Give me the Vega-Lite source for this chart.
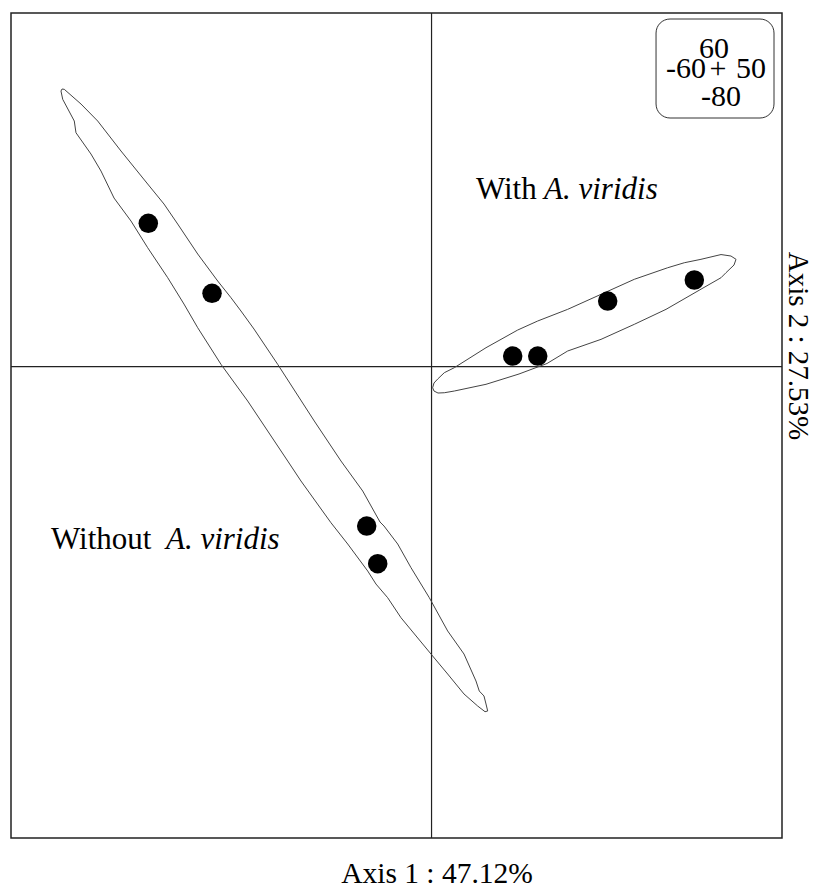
{
  "$schema": "https://vega.github.io/schema/vega-lite/v6.json",
  "width": 771,
  "height": 825,
  "padding": {"left": 10, "top": 12, "right": 0, "bottom": 0},
  "background": "white",
  "config": {"view": {"stroke": "#222", "strokeWidth": 1.5}},
  "datasets": {
    "points": [
      {"g": "without", "x": -40.41, "y": 24.31},
      {"g": "without", "x": -31.32, "y": 12.43},
      {"g": "without", "x": -9.25, "y": -27.06},
      {"g": "without", "x": -7.68, "y": -33.45},
      {"g": "with", "x": 11.58, "y": 1.79},
      {"g": "with", "x": 15.15, "y": 1.79},
      {"g": "with", "x": 25.13, "y": 11.12},
      {"g": "with", "x": 37.49, "y": 14.69}
    ],
    "hulls": [
      {"g": "without", "i": 1, "x": -52.72, "y": 47.10},
      {"g": "without", "i": 2, "x": -52.40, "y": 47.05},
      {"g": "without", "i": 3, "x": -50.01, "y": 44.55},
      {"g": "without", "i": 4, "x": -47.63, "y": 41.67},
      {"g": "without", "i": 5, "x": -44.31, "y": 36.58},
      {"g": "without", "i": 6, "x": -40.50, "y": 30.98},
      {"g": "without", "i": 7, "x": -38.17, "y": 27.58},
      {"g": "without", "i": 8, "x": -36.22, "y": 24.19},
      {"g": "without", "i": 9, "x": -33.36, "y": 19.10},
      {"g": "without", "i": 10, "x": -30.51, "y": 14.52},
      {"g": "without", "i": 11, "x": -28.61, "y": 11.68},
      {"g": "without", "i": 12, "x": -27.19, "y": 9.43},
      {"g": "without", "i": 13, "x": -25.33, "y": 6.37},
      {"g": "without", "i": 14, "x": -21.95, "y": 0.38},
      {"g": "without", "i": 15, "x": -16.73, "y": -9.24},
      {"g": "without", "i": 16, "x": -12.92, "y": -16.03},
      {"g": "without", "i": 17, "x": -9.82, "y": -21.12},
      {"g": "without", "i": 18, "x": -7.35, "y": -26.38},
      {"g": "without", "i": 19, "x": -6.78, "y": -27.06},
      {"g": "without", "i": 20, "x": -4.83, "y": -30.11},
      {"g": "without", "i": 21, "x": -2.93, "y": -34.13},
      {"g": "without", "i": 22, "x": -0.32, "y": -39.22},
      {"g": "without", "i": 23, "x": 2.30, "y": -44.87},
      {"g": "without", "i": 24, "x": 4.63, "y": -48.78},
      {"g": "without", "i": 25, "x": 6.34, "y": -53.36},
      {"g": "without", "i": 26, "x": 6.81, "y": -55.06},
      {"g": "without", "i": 27, "x": 7.48, "y": -55.90},
      {"g": "without", "i": 28, "x": 7.77, "y": -57.26},
      {"g": "without", "i": 29, "x": 8.01, "y": -58.45},
      {"g": "without", "i": 30, "x": 7.63, "y": -58.57},
      {"g": "without", "i": 31, "x": 6.58, "y": -57.60},
      {"g": "without", "i": 32, "x": 4.63, "y": -55.56},
      {"g": "without", "i": 33, "x": 2.30, "y": -52.17},
      {"g": "without", "i": 34, "x": -0.08, "y": -48.78},
      {"g": "without", "i": 35, "x": -4.36, "y": -42.62},
      {"g": "without", "i": 36, "x": -6.26, "y": -39.22},
      {"g": "without", "i": 37, "x": -7.93, "y": -36.90},
      {"g": "without", "i": 38, "x": -9.11, "y": -34.69},
      {"g": "without", "i": 39, "x": -11.96, "y": -30.11},
      {"g": "without", "i": 40, "x": -14.35, "y": -26.50},
      {"g": "without", "i": 41, "x": -18.63, "y": -19.42},
      {"g": "without", "i": 42, "x": -20.52, "y": -16.03},
      {"g": "without", "i": 43, "x": -26.23, "y": -5.85},
      {"g": "without", "i": 44, "x": -30.04, "y": 0.38},
      {"g": "without", "i": 45, "x": -33.36, "y": 6.59},
      {"g": "without", "i": 46, "x": -35.32, "y": 10.61},
      {"g": "without", "i": 47, "x": -37.64, "y": 15.08},
      {"g": "without", "i": 48, "x": -40.50, "y": 20.17},
      {"g": "without", "i": 49, "x": -42.88, "y": 24.70},
      {"g": "without", "i": 50, "x": -45.30, "y": 28.60},
      {"g": "without", "i": 51, "x": -47.16, "y": 33.18},
      {"g": "without", "i": 52, "x": -48.59, "y": 36.07},
      {"g": "without", "i": 53, "x": -50.73, "y": 39.68},
      {"g": "without", "i": 54, "x": -50.97, "y": 41.67},
      {"g": "without", "i": 55, "x": -52.62, "y": 45.35},
      {"g": "without", "i": 56, "x": -52.87, "y": 46.76},
      {"g": "without", "i": 57, "x": -52.72, "y": 47.10},
      {"g": "with", "i": 1, "x": 0.16, "y": -3.59},
      {"g": "with", "i": 2, "x": 0.35, "y": -2.79},
      {"g": "with", "i": 3, "x": 0.88, "y": -2.11},
      {"g": "with", "i": 4, "x": 1.82, "y": -1.04},
      {"g": "with", "i": 5, "x": 3.25, "y": -0.19},
      {"g": "with", "i": 6, "x": 7.77, "y": 3.20},
      {"g": "with", "i": 7, "x": 12.29, "y": 6.20},
      {"g": "with", "i": 8, "x": 15.14, "y": 7.73},
      {"g": "with", "i": 9, "x": 19.42, "y": 9.71},
      {"g": "with", "i": 10, "x": 24.18, "y": 12.26},
      {"g": "with", "i": 11, "x": 28.93, "y": 14.81},
      {"g": "with", "i": 12, "x": 33.69, "y": 16.77},
      {"g": "with", "i": 13, "x": 36.06, "y": 17.62},
      {"g": "with", "i": 14, "x": 38.44, "y": 18.20},
      {"g": "with", "i": 15, "x": 41.30, "y": 19.01},
      {"g": "with", "i": 16, "x": 42.72, "y": 18.76},
      {"g": "with", "i": 17, "x": 43.44, "y": 18.20},
      {"g": "with", "i": 18, "x": 43.15, "y": 17.23},
      {"g": "with", "i": 19, "x": 42.01, "y": 15.93},
      {"g": "with", "i": 20, "x": 41.30, "y": 15.08},
      {"g": "with", "i": 21, "x": 38.73, "y": 13.33},
      {"g": "with", "i": 22, "x": 33.45, "y": 9.71},
      {"g": "with", "i": 23, "x": 28.93, "y": 7.17},
      {"g": "with", "i": 24, "x": 24.18, "y": 4.62},
      {"g": "with", "i": 25, "x": 19.42, "y": 2.64},
      {"g": "with", "i": 26, "x": 16.47, "y": 0.52},
      {"g": "with", "i": 27, "x": 12.48, "y": -1.26},
      {"g": "with", "i": 28, "x": 7.77, "y": -3.01},
      {"g": "with", "i": 29, "x": 3.25, "y": -4.15},
      {"g": "with", "i": 30, "x": 1.82, "y": -4.44},
      {"g": "with", "i": 31, "x": 0.92, "y": -4.49},
      {"g": "with", "i": 32, "x": 0.35, "y": -4.15},
      {"g": "with", "i": 33, "x": 0.16, "y": -3.59}
    ],
    "cross": [{"x": 0, "y": 0}],
    "legendbox": [{"x1": 32.03, "x2": 48.86, "y1": 42.18, "y2": 58.98}],
    "legendcenter": [
      {"t": "60", "x": 40.3, "y": 52.36},
      {"t": "+", "x": 40.87, "y": 48.97},
      {"t": "-80", "x": 41.3, "y": 44.2}
    ],
    "legendright": [{"t": "-60", "x": 39.16, "y": 48.97}],
    "legendleft": [{"t": "50", "x": 43.44, "y": 48.97}],
    "labelsplain": [
      {"t": "With", "x": 6.34, "y": 28.43},
      {"t": "Without", "x": -54.29, "y": -30.96}
    ],
    "labelsitalic": [
      {"t": "A. viridis", "x": 16.05, "y": 28.43},
      {"t": "A. viridis", "x": -37.89, "y": -30.96}
    ],
    "titlex": [{"t": "Axis 1 : 47.12%", "x": 0.78, "y": -87.64}],
    "titley": [{"t": "Axis 2 : 27.53%", "x": 52.29, "y": 3.49}]
  },
  "layer": [
    {
      "data": {"name": "cross"},
      "mark": {"type": "rule", "color": "#222", "strokeWidth": 1.2},
      "encoding": {
        "x": {"field": "x", "type": "quantitative", "scale": {"domain": [-60, 50], "nice": false, "zero": false}, "axis": null}
      }
    },
    {
      "data": {"name": "cross"},
      "mark": {"type": "rule", "color": "#222", "strokeWidth": 1.2},
      "encoding": {
        "y": {"field": "y", "type": "quantitative", "scale": {"domain": [-80, 60], "nice": false, "zero": false}, "axis": null}
      }
    },
    {
      "data": {"name": "hulls"},
      "mark": {"type": "line", "color": "#444", "strokeWidth": 1, "interpolate": "linear"},
      "encoding": {
        "x": {"field": "x", "type": "quantitative"},
        "y": {"field": "y", "type": "quantitative"},
        "detail": {"field": "g"},
        "order": {"field": "i", "type": "quantitative"}
      }
    },
    {
      "data": {"name": "points"},
      "mark": {"type": "circle", "size": 380, "color": "black", "opacity": 1},
      "encoding": {
        "x": {"field": "x", "type": "quantitative"},
        "y": {"field": "y", "type": "quantitative"}
      }
    },
    {
      "data": {"name": "legendbox"},
      "mark": {"type": "rect", "fill": "white", "stroke": "#333", "strokeWidth": 1, "cornerRadius": 14},
      "encoding": {
        "x": {"field": "x1", "type": "quantitative"},
        "x2": {"field": "x2"},
        "y": {"field": "y1", "type": "quantitative"},
        "y2": {"field": "y2"}
      }
    },
    {
      "data": {"name": "legendcenter"},
      "mark": {"type": "text", "font": "Liberation Serif, Times New Roman, serif", "fontSize": 30, "align": "center", "baseline": "alphabetic", "color": "black"},
      "encoding": {
        "x": {"field": "x", "type": "quantitative"},
        "y": {"field": "y", "type": "quantitative"},
        "text": {"field": "t"}
      }
    },
    {
      "data": {"name": "legendright"},
      "mark": {"type": "text", "font": "Liberation Serif, Times New Roman, serif", "fontSize": 30, "align": "right", "baseline": "alphabetic", "color": "black"},
      "encoding": {
        "x": {"field": "x", "type": "quantitative"},
        "y": {"field": "y", "type": "quantitative"},
        "text": {"field": "t"}
      }
    },
    {
      "data": {"name": "legendleft"},
      "mark": {"type": "text", "font": "Liberation Serif, Times New Roman, serif", "fontSize": 30, "align": "left", "baseline": "alphabetic", "color": "black"},
      "encoding": {
        "x": {"field": "x", "type": "quantitative"},
        "y": {"field": "y", "type": "quantitative"},
        "text": {"field": "t"}
      }
    },
    {
      "data": {"name": "labelsplain"},
      "mark": {"type": "text", "font": "Liberation Serif, Times New Roman, serif", "fontSize": 31, "align": "left", "baseline": "alphabetic", "color": "black"},
      "encoding": {
        "x": {"field": "x", "type": "quantitative"},
        "y": {"field": "y", "type": "quantitative"},
        "text": {"field": "t"}
      }
    },
    {
      "data": {"name": "labelsitalic"},
      "mark": {"type": "text", "font": "Liberation Serif, Times New Roman, serif", "fontSize": 31, "fontStyle": "italic", "align": "left", "baseline": "alphabetic", "color": "black"},
      "encoding": {
        "x": {"field": "x", "type": "quantitative"},
        "y": {"field": "y", "type": "quantitative"},
        "text": {"field": "t"}
      }
    },
    {
      "data": {"name": "titlex"},
      "mark": {"type": "text", "font": "Liberation Serif, Times New Roman, serif", "fontSize": 29.5, "align": "center", "baseline": "alphabetic", "color": "black"},
      "encoding": {
        "x": {"field": "x", "type": "quantitative"},
        "y": {"field": "y", "type": "quantitative"},
        "text": {"field": "t"}
      }
    },
    {
      "data": {"name": "titley"},
      "mark": {"type": "text", "font": "Liberation Serif, Times New Roman, serif", "fontSize": 29, "angle": 90, "align": "center", "baseline": "middle", "color": "black"},
      "encoding": {
        "x": {"field": "x", "type": "quantitative"},
        "y": {"field": "y", "type": "quantitative"},
        "text": {"field": "t"}
      }
    }
  ]
}
